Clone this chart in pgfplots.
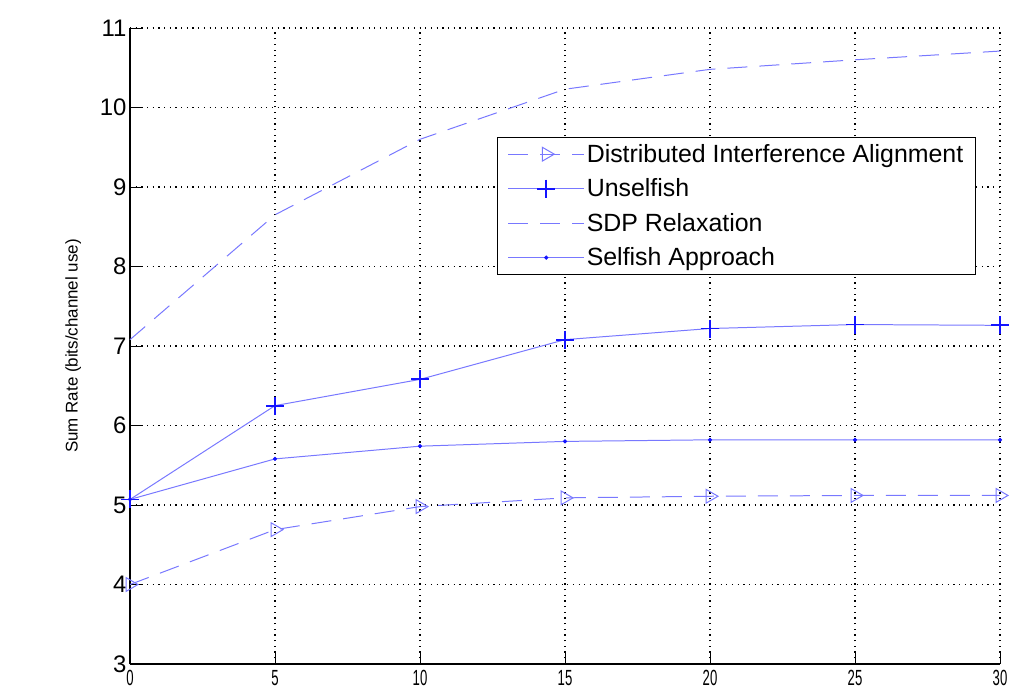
\documentclass[border=0pt]{standalone}
\usepackage{fontspec}
\setmainfont{Liberation Sans}
\usepackage{graphicx}
\usepackage{pgfplots}
\pgfplotsset{compat=1.18}
\definecolor{ln}{RGB}{120,120,255}
\definecolor{mk}{RGB}{20,20,255}
\begin{document}
\begin{tikzpicture}[x=1bp,y=1bp]
\begin{axis}[
  scale only axis,
  width=870bp, height=636bp,
  xmin=0, xmax=30, ymin=3, ymax=11,
  xtick={0,5,...,30}, ytick={3,4,...,11},
  axis x line=bottom, axis y line=left,
  axis line style={-, line width=1.3pt, black},
  tick align=inside, major tick length=12bp,
  tick style={black, line width=1pt},
  grid=major,
  major grid style={black, line width=1.3pt, dash pattern=on 1.2pt off 4.5pt},
  yticklabel style={font=\fontsize{24}{26}\selectfont, black},
  xticklabel={\scalebox{0.6}[1]{\pgfmathprintnumber{\tick}}},
  xticklabel style={font=\fontsize{22}{24}\selectfont, black, yshift=-3bp},
  /pgf/number format/assume math mode=true,
  ylabel={Sum Rate (bits/channel use)},
  ylabel style={font=\fontsize{17}{19}\selectfont, at={(ticklabel cs:0.5)}, anchor=south, yshift=12bp},
  clip=false,
  legend style={at={(0.422,0.829)}, anchor=north west, draw=black, line width=1.3pt,
    font=\fontsize{25}{27}\selectfont, row sep=11pt, inner xsep=10bp, inner ysep=5bp,
    cells={anchor=west}},
  legend image code/.code={\draw[mark repeat=2,mark phase=2,#1] plot coordinates {(0bp,0bp) (38bp,0bp) (76bp,0bp)};},
]
\addplot[ln, line width=1pt, dash pattern=on 20bp off 12bp, mark=triangle, mark size=8bp,
  mark options={solid, rotate=-90, draw=ln, fill=none}]
  coordinates {(0,4.0) (5,4.69) (10,4.98) (15,5.09) (20,5.11) (25,5.12) (30,5.12)};
\addlegendentry{Distributed Interference Alignment}
\addplot[ln, line width=1pt, mark=+, mark size=9bp, mark options={mk, line width=1.8pt}]
  coordinates {(0,5.07) (5,6.25) (10,6.58) (15,7.08) (20,7.22) (25,7.27) (30,7.26)};
\addlegendentry{Unselfish}
\addplot[ln, line width=1pt, dash pattern=on 20bp off 12bp]
  coordinates {(0,7.08) (5,8.65) (10,9.6) (15,10.23) (20,10.48) (25,10.6) (30,10.71)};
\addlegendentry{SDP Relaxation}
\addplot[ln, line width=1pt, mark=*, mark size=1.5bp, mark options={mk}]
  coordinates {(0,5.07) (5,5.58) (10,5.74) (15,5.80) (20,5.82) (25,5.82) (30,5.82)};
\addlegendentry{Selfish Approach}
\coordinate (bbl) at (rel axis cs:-0.14943,-0.05503);
\coordinate (btr) at (rel axis cs:1.03678,1.04403);
\end{axis}
\useasboundingbox (bbl) rectangle (btr);
\end{tikzpicture}
\end{document}
